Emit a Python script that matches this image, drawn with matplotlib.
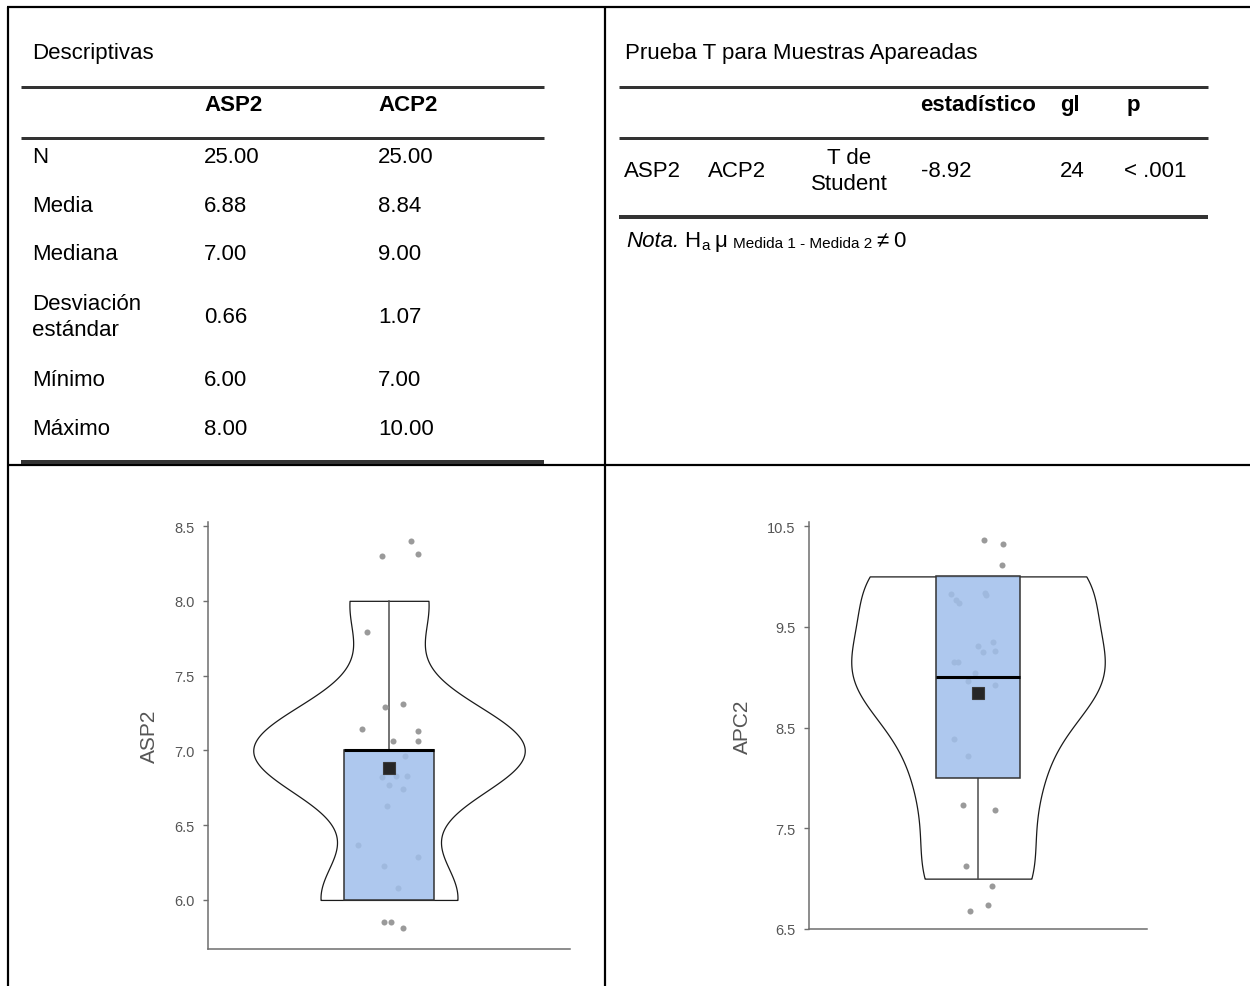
import numpy as np
import matplotlib
matplotlib.use("Agg")
import matplotlib.pyplot as plt
from matplotlib.lines import Line2D

# ------------------------------------------------------------------ data
desc_title = "Descriptivas"
desc_cols = ["ASP2", "ACP2"]
desc_rows = ["N", "Media", "Mediana", "Desviación\nestándar", "Mínimo", "Máximo"]
desc_asp2 = ["25.00", "6.88", "7.00", "0.66", "6.00", "8.00"]
desc_acp2 = ["25.00", "8.84", "9.00", "1.07", "7.00", "10.00"]

ttest_title = "Prueba T para Muestras Apareadas"
ttest_cols = ["estadístico", "gl", "p"]
ttest_row = ["ASP2", "ACP2", "T de\nStudent", "-8.92", "24", "< .001"]

# raw scores (integers)
asp2 = [6, 6, 6, 6, 6, 6, 6,
        7, 7, 7, 7, 7, 7, 7, 7, 7, 7, 7, 7, 7, 7,
        8, 8, 8, 8]
acp2 = [7, 7, 7, 7,
        8, 8, 8, 8,
        9, 9, 9, 9, 9, 9, 9, 9, 9,
        10, 10, 10, 10, 10, 10, 10, 10]

# jittered points as drawn (y value, x offset)
asp2_pts_y = [5.85, 5.85, 5.81, 6.08, 6.23, 6.29, 6.37,
              6.63, 6.74, 6.77, 6.82, 6.83, 6.83, 6.90, 6.96, 7.06, 7.06,
              7.13, 7.14, 7.29, 7.31,
              7.79, 8.30, 8.31, 8.40]
asp2_pts_x = [-0.03, 0.01, 0.08, 0.05, -0.03, 0.16, -0.17,
              -0.01, 0.08, 0.00, -0.04, 0.04, 0.10, -0.01, 0.09, 0.02, 0.16,
              0.16, -0.15, -0.02, 0.08,
              -0.12, -0.04, 0.16, 0.12]
acp2_pts_y = [6.68, 6.74, 6.93, 7.13,
              7.68, 7.73, 8.22, 8.39,
              8.92, 8.96, 9.04, 9.15, 9.15, 9.25, 9.26, 9.31, 9.35,
              9.74, 9.77, 9.82, 9.83, 9.84, 10.11, 10.32, 10.36]
acp2_pts_x = [-0.05, 0.06, 0.08, -0.07,
              0.10, -0.09, -0.06, -0.14,
              0.10, -0.06, -0.02, -0.14, -0.12, 0.03, 0.10, 0.00, 0.09,
              -0.11, -0.13, 0.045, -0.16, 0.04, 0.14, 0.15, 0.035]

ylabels = ["ASP2", "APC2"]
yticks_asp2 = [6.0, 6.5, 7.0, 7.5, 8.0, 8.5]
yticks_acp2 = [6.5, 7.5, 8.5, 9.5, 10.5]

# ------------------------------------------------------------------ setup
W, H = 1250, 987
DPI = 100
plt.rcParams["font.family"] = ["Liberation Sans", "DejaVu Sans"]

fig = plt.figure(figsize=(W / DPI, H / DPI), dpi=DPI)
fig.patch.set_facecolor("white")


def fx(x):
    return x / W


def fy(y):
    return 1 - y / H


def line(x0, y0, x1, y1, lw_px, color):
    fig.add_artist(Line2D([fx(x0), fx(x1)], [fy(y0), fy(y1)],
                          transform=fig.transFigure, lw=lw_px * 72 / DPI,
                          color=color, solid_capstyle="butt"))


def txt(x, y, s, size=14, ha="left", weight="normal", style="normal", color="black"):
    return fig.text(fx(x), fy(y), s, fontsize=size, ha=ha, va="baseline",
                    fontweight=weight, fontstyle=style, color=color)


# frame
line(7, 8, 1250, 8, 2.2, "black")
line(7.5, 8, 7.5, 987, 2.2, "black")
line(605, 8, 605, 987, 2.2, "black")
line(7, 465.5, 1250, 465.5, 2.2, "black")

# ------------------------------------------------------------------ table 1
TS = 16
txt(32, 59, desc_title, TS)
line(21, 87.5, 544, 87.5, 3, "#333333")
line(21, 138.5, 544, 138.5, 3, "#333333")
line(21, 463, 544, 463, 4, "#333333")
col_x = [204, 378]
for j, c in enumerate(desc_cols):
    txt(col_x[j], 111, c, TS, weight="bold")
row_base = [163, 212, 260, 323, 386, 435]
for i, r in enumerate(desc_rows):
    if "\n" in r:
        a, b = r.split("\n")
        txt(32, row_base[i] - 13.5, a, TS)
        txt(32, row_base[i] + 13.5, b, TS)
    else:
        txt(32, row_base[i], r, TS)
    txt(col_x[0], row_base[i], desc_asp2[i], TS)
    txt(col_x[1], row_base[i], desc_acp2[i], TS)

# ------------------------------------------------------------------ table 2
txt(625, 59, ttest_title, TS)
line(619, 87.5, 1208, 87.5, 3, "#333333")
line(619, 138.5, 1208, 138.5, 3, "#333333")
line(619, 218, 1208, 218, 4, "#333333")
hdr_x = [920, 1060, 1127]
for j, c in enumerate(ttest_cols):
    txt(hdr_x[j], 111, c, TS, weight="bold")
row_x = [624, 708, 849, 921, 1060, 1124]
for j, v in enumerate(ttest_row):
    if "\n" in v:
        a, b = v.split("\n")
        txt(row_x[j], 164, a, TS, ha="center")
        txt(row_x[j], 190, b, TS, ha="center")
    else:
        txt(row_x[j], 177, v, TS)

# Nota line, composed piece by piece
fig.canvas.draw()
rend = fig.canvas.get_renderer()


def piece(x, y, s, size, style="normal"):
    t = txt(x, y, s, size, style=style)
    return x + t.get_window_extent(renderer=rend).width


nb = 247
x = piece(626, nb, "Nota.", TS, style="italic")
x = piece(x + 5, nb, "H", TS)
x = piece(x + 1, nb + 3, "a", 11)
x = piece(x + 5, nb, "μ", TS)
x = piece(x + 5, nb + 1, "Medida 1 - Medida 2", 11)
x = piece(x + 4, nb, "≠", TS)
x = piece(x + 5, nb, "0", TS)

# ------------------------------------------------------------------ plots
BOX_FC = (160 / 255, 191 / 255, 235 / 255, 0.85)


def nrd0_factor(d):
    d = np.asarray(d, float)
    sd = d.std(ddof=1)
    q75, q25 = np.percentile(d, [75, 25])
    bw = 0.9 * min(sd, (q75 - q25) / 1.34) * len(d) ** (-0.2)
    return bw / sd


def draw_panel(rect_px, data, pts_x, pts_y, ylim, ticks, ylabel):
    x0, y0, x1, y1 = rect_px
    ax = fig.add_axes([fx(x0), fy(y1), (x1 - x0) / W, (y1 - y0) / H])
    vp = ax.violinplot([data], positions=[0], widths=1.5, points=400,
                       bw_method=nrd0_factor(data), showextrema=False)
    for b in vp["bodies"]:
        b.set_facecolor("white")
        b.set_edgecolor("#1a1a1a")
        b.set_linewidth(0.9)
        b.set_alpha(1)
        b.set_zorder(1)
    ax.scatter(pts_x, pts_y, s=19, color="#9a9a9a", linewidths=0, zorder=2)
    bp = ax.boxplot([data], positions=[0], widths=0.5, patch_artist=True,
                    showfliers=False, showcaps=False, whis=1.5,
                    medianprops=dict(color="black", lw=2.2),
                    boxprops=dict(facecolor=BOX_FC, edgecolor="#333333", lw=1.1),
                    whiskerprops=dict(color="#4d4d4d", lw=1.1))
    for w in bp["whiskers"]:
        w.set_zorder(1.5)
    for bx in bp["boxes"]:
        bx.set_zorder(3)
    for m in bp["medians"]:
        m.set_zorder(3.5)
    ax.plot([0], [np.mean(data)], marker="s", ms=8, color="#262626",
            mec="#3a3a3a", mew=0.8, zorder=4, ls="none")
    ax.set_xlim(-1, 1)
    ax.set_ylim(*ylim)
    ax.set_yticks(ticks)
    ax.set_yticklabels([f"{t:.1f}" for t in ticks])
    ax.set_xticks([])
    for s in ["top", "right"]:
        ax.spines[s].set_visible(False)
    for s in ["left", "bottom"]:
        ax.spines[s].set_color("#6e6e6e")
        ax.spines[s].set_linewidth(1.1)
    ax.tick_params(axis="y", colors="#6e6e6e", labelcolor="#555555",
                   labelsize=10.5, length=3.5, width=1, pad=6)
    ax.set_ylabel(ylabel, fontsize=15, color="#555555", labelpad=11)
    ax.set_facecolor("none")
    return ax


draw_panel((208, 523, 570, 950), asp2, asp2_pts_x, asp2_pts_y,
           (5.672, 8.527), yticks_asp2, ylabels[0])
draw_panel((809, 523, 1147, 930), acp2, acp2_pts_x, acp2_pts_y,
           (6.5, 10.54), yticks_acp2, ylabels[1])

fig.savefig("out.png", dpi=DPI, facecolor="white")
